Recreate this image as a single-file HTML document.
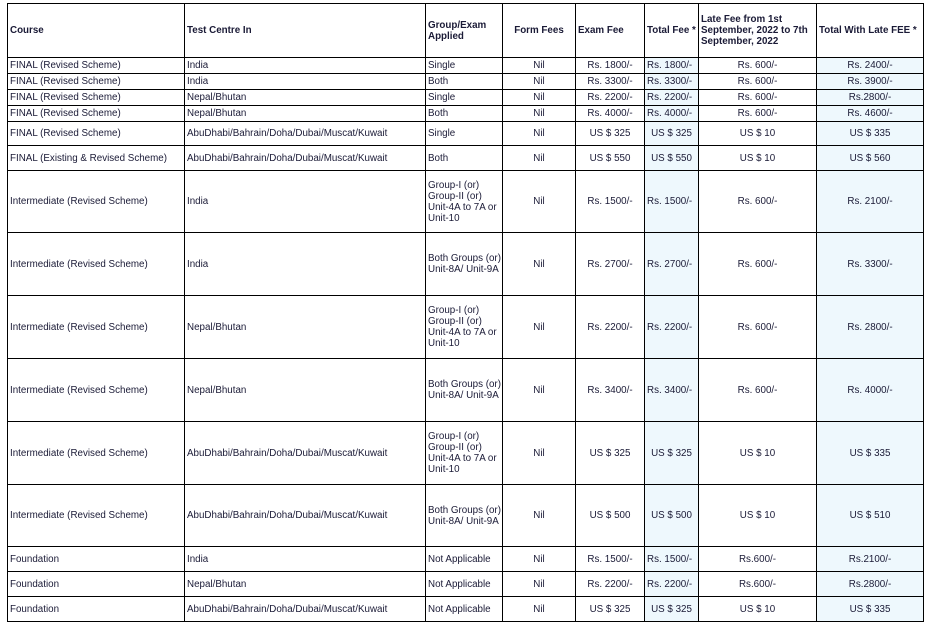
<!DOCTYPE html>
<html><head><meta charset="utf-8"><style>
html,body{margin:0;padding:0;background:#fff;width:927px;height:627px;overflow:hidden}
table{position:absolute;left:7px;top:3px;width:916px;border-collapse:collapse;table-layout:fixed;font-family:"Liberation Sans",Arial,sans-serif;font-size:9.8px;color:#1a1a36}
td{border:1px solid #000;padding:0 2px;line-height:11px;vertical-align:middle;overflow:hidden}
tr:not(.h) td{white-space:nowrap;overflow:visible}
.h td{font-weight:bold}
.c{text-align:center}
.b{background:#eef8fd}
</style></head><body>
<table>
<colgroup><col style="width:177px"><col style="width:241px"><col style="width:77px"><col style="width:73px"><col style="width:69px"><col style="width:54px"><col style="width:118px"><col style="width:107px"></colgroup>
<tr class="h" style="height:54px"><td>Course</td><td>Test Centre In</td><td>Group/Exam Applied</td><td class="c">Form Fees</td><td>Exam Fee</td><td>Total Fee *</td><td>Late Fee from 1st September, 2022 to 7th September, 2022</td><td>Total With Late FEE *</td></tr>
<tr style="height:16px"><td>FINAL (Revised Scheme)</td><td>India</td><td>Single</td><td class="c">Nil</td><td class="c">Rs. 1800/-</td><td class="b">Rs. 1800/-</td><td class="c">Rs. 600/-</td><td class="c b">Rs. 2400/-</td></tr>
<tr style="height:16px"><td>FINAL (Revised Scheme)</td><td>India</td><td>Both</td><td class="c">Nil</td><td class="c">Rs. 3300/-</td><td class="b">Rs. 3300/-</td><td class="c">Rs. 600/-</td><td class="c b">Rs. 3900/-</td></tr>
<tr style="height:16px"><td>FINAL (Revised Scheme)</td><td>Nepal/Bhutan</td><td>Single</td><td class="c">Nil</td><td class="c">Rs. 2200/-</td><td class="b">Rs. 2200/-</td><td class="c">Rs. 600/-</td><td class="c b">Rs.2800/-</td></tr>
<tr style="height:16px"><td>FINAL (Revised Scheme)</td><td>Nepal/Bhutan</td><td>Both</td><td class="c">Nil</td><td class="c">Rs. 4000/-</td><td class="b">Rs. 4000/-</td><td class="c">Rs. 600/-</td><td class="c b">Rs. 4600/-</td></tr>
<tr style="height:24px"><td>FINAL (Revised Scheme)</td><td>AbuDhabi/Bahrain/Doha/Dubai/Muscat/Kuwait</td><td>Single</td><td class="c">Nil</td><td class="c">US $ 325</td><td class="c b">US $ 325</td><td class="c">US $ 10</td><td class="c b">US $ 335</td></tr>
<tr style="height:25px"><td>FINAL (Existing &amp; Revised Scheme)</td><td>AbuDhabi/Bahrain/Doha/Dubai/Muscat/Kuwait</td><td>Both</td><td class="c">Nil</td><td class="c">US $ 550</td><td class="c b">US $ 550</td><td class="c">US $ 10</td><td class="c b">US $ 560</td></tr>
<tr style="height:62px"><td>Intermediate (Revised Scheme)</td><td>India</td><td>Group-I (or)<br>Group-II (or)<br>Unit-4A to 7A or<br>Unit-10</td><td class="c">Nil</td><td class="c">Rs. 1500/-</td><td class="b">Rs. 1500/-</td><td class="c">Rs. 600/-</td><td class="c b">Rs. 2100/-</td></tr>
<tr style="height:63px"><td>Intermediate (Revised Scheme)</td><td>India</td><td>Both Groups (or)<br>Unit-8A/ Unit-9A</td><td class="c">Nil</td><td class="c">Rs. 2700/-</td><td class="b">Rs. 2700/-</td><td class="c">Rs. 600/-</td><td class="c b">Rs. 3300/-</td></tr>
<tr style="height:63px"><td>Intermediate (Revised Scheme)</td><td>Nepal/Bhutan</td><td>Group-I (or)<br>Group-II (or)<br>Unit-4A to 7A or<br>Unit-10</td><td class="c">Nil</td><td class="c">Rs. 2200/-</td><td class="b">Rs. 2200/-</td><td class="c">Rs. 600/-</td><td class="c b">Rs. 2800/-</td></tr>
<tr style="height:63px"><td>Intermediate (Revised Scheme)</td><td>Nepal/Bhutan</td><td>Both Groups (or)<br>Unit-8A/ Unit-9A</td><td class="c">Nil</td><td class="c">Rs. 3400/-</td><td class="b">Rs. 3400/-</td><td class="c">Rs. 600/-</td><td class="c b">Rs. 4000/-</td></tr>
<tr style="height:63px"><td>Intermediate (Revised Scheme)</td><td>AbuDhabi/Bahrain/Doha/Dubai/Muscat/Kuwait</td><td>Group-I (or)<br>Group-II (or)<br>Unit-4A to 7A or<br>Unit-10</td><td class="c">Nil</td><td class="c">US $ 325</td><td class="c b">US $ 325</td><td class="c">US $ 10</td><td class="c b">US $ 335</td></tr>
<tr style="height:62px"><td>Intermediate (Revised Scheme)</td><td>AbuDhabi/Bahrain/Doha/Dubai/Muscat/Kuwait</td><td>Both Groups (or)<br>Unit-8A/ Unit-9A</td><td class="c">Nil</td><td class="c">US $ 500</td><td class="c b">US $ 500</td><td class="c">US $ 10</td><td class="c b">US $ 510</td></tr>
<tr style="height:25px"><td>Foundation</td><td>India</td><td>Not Applicable</td><td class="c">Nil</td><td class="c">Rs. 1500/-</td><td class="b">Rs. 1500/-</td><td class="c">Rs.600/-</td><td class="c b">Rs.2100/-</td></tr>
<tr style="height:25px"><td>Foundation</td><td>Nepal/Bhutan</td><td>Not Applicable</td><td class="c">Nil</td><td class="c">Rs. 2200/-</td><td class="b">Rs. 2200/-</td><td class="c">Rs.600/-</td><td class="c b">Rs.2800/-</td></tr>
<tr style="height:25px"><td>Foundation</td><td>AbuDhabi/Bahrain/Doha/Dubai/Muscat/Kuwait</td><td>Not Applicable</td><td class="c">Nil</td><td class="c">US $ 325</td><td class="c b">US $ 325</td><td class="c">US $ 10</td><td class="c b">US $ 335</td></tr>
</table>
</body></html>
